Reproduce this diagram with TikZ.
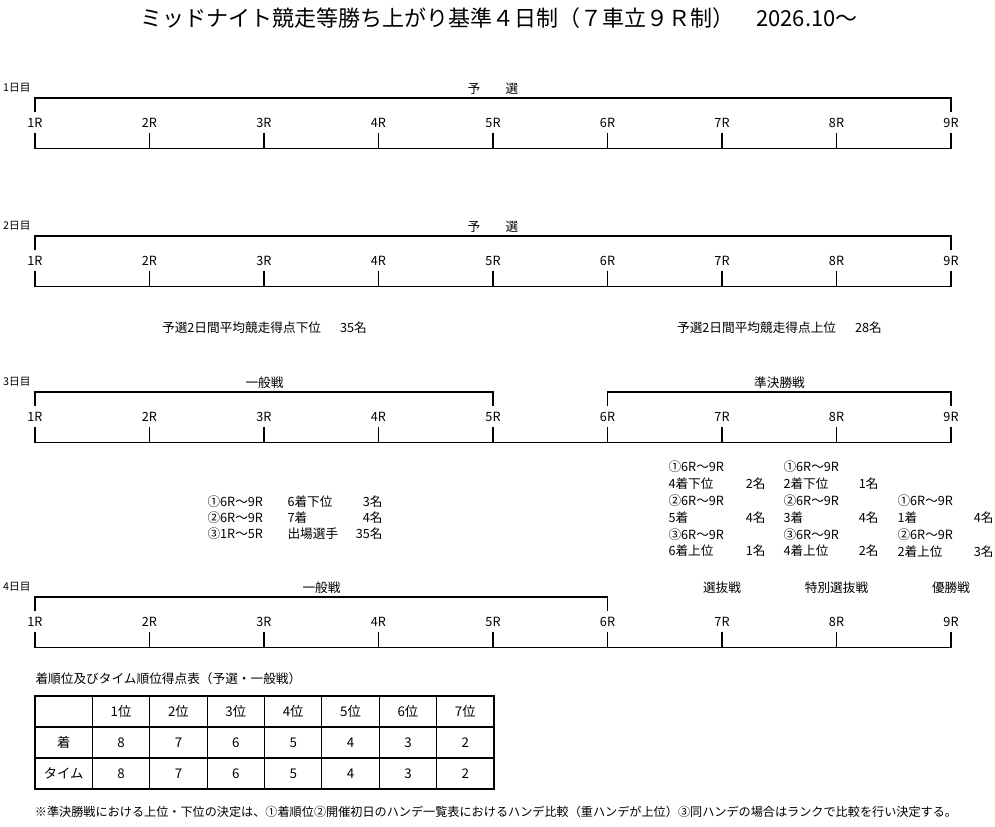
\documentclass[tikz,border=0pt]{standalone}
\usepackage{fontspec}
\setmainfont{Noto Sans CJK JP}
\usepackage{tikz}
\usetikzlibrary{calc,positioning}

\begin{document}
\begin{tikzpicture}[x=.75pt,y=-.75pt,line width=.8pt,
    every node/.append style={font=\fontsize{9.5}{12.6}\selectfont, inner sep=0pt},
    race/.style={minimum height=14.25pt},
    seg/.style={anchor=south, inner sep=2pt},
    daylab/.style={anchor=east, font=\fontsize{8}{9}\selectfont},
    cell/.style={font=\fontsize{10}{12}\selectfont}]
  \useasboundingbox (0,0) rectangle (995,826);
  \node[font=\fontsize{16.5}{18}\selectfont] (title) at (499,18)
    {ミッドナイト競走等勝ち上がり基準４日制（７車立９Ｒ制）　2026.10～};
  \foreach \dnum/\ytop in {1/98,2/236,3/392,4/597} {
    \node[daylab] (day\dnum) at (31,{\ytop-10}) {\dnum 日目};
    \foreach \rc in {1,...,9}
      \node[race] (r\dnum-\rc) at ({35+114.5*(\rc-1)},{\ytop+24.5}) {\rc R};
    \draw (r\dnum-1.south) ++(0,16) coordinate (b\dnum) -- (b\dnum -| r\dnum-9.south);
    \foreach \rc in {1,...,9}
      \draw (r\dnum-\rc.south) -- (r\dnum-\rc.south |- b\dnum);
  }
  \node[seg] (yo1) at (493,98) {予　　選};
  \draw (r1-1.north) |- (yo1.south) -| (r1-9.north);
  \node[seg] (yo2) at (493,236) {予　　選};
  \draw (r2-1.north) |- (yo2.south) -| (r2-9.north);
  \node[seg] (ip3) at (264.5,392) {一般戦};
  \draw (r3-1.north) |- (ip3.south) -| (r3-5.north);
  \node[seg] (jk3) at (779.5,392) {準決勝戦};
  \draw (r3-6.north) |- (jk3.south) -| (r3-9.north);
  \node[seg] (ip4) at (321.5,597) {一般戦};
  \draw (r4-1.north) |- (ip4.south) -| (r4-6.north);
  \node[seg] (sen4) at (r4-7 |- ip4.south) {選抜戦};
  \node[seg] (toku4) at (r4-8 |- ip4.south) {特別選抜戦};
  \node[seg] (yu4) at (r4-9 |- ip4.south) {優勝戦};

  \node (lower) at (264.5,328) {予選2日間平均競走得点下位\hspace{1.5em}35名};
  \node (upper) at (779.5,328) {予選2日間平均競走得点上位\hspace{1.5em}28名};

  \node[anchor=west, align=left, font=\fontsize{9.5}{12}\selectfont] (ippan) at (207,518)
    {\makebox[60pt][l]{①6R～9R}\makebox[71.25pt]{6着下位\hfill 3名}\\
     \makebox[60pt][l]{②6R～9R}\makebox[71.25pt]{7着\hfill 4名}\\
     \makebox[60pt][l]{③1R～5R}\makebox[71.25pt]{出場選手\hfill 35名}};
  \node[anchor=west, align=left] (senbatsu) at (668,509)
    {①6R～9R\\ \makebox[72.75pt]{4着下位\hfill 2名}\\
     ②6R～9R\\ \makebox[72.75pt]{5着\hfill 4名}\\
     ③6R～9R\\ \makebox[72.75pt]{6着上位\hfill 1名}};
  \node[anchor=west, align=left] (tokubetsu) at (783,509)
    {①6R～9R\\ \makebox[71.25pt]{2着下位\hfill 1名}\\
     ②6R～9R\\ \makebox[71.25pt]{3着\hfill 4名}\\
     ③6R～9R\\ \makebox[71.25pt]{4着上位\hfill 2名}};
  \node[anchor=west, align=left] (yusho) at (897,526)
    {①6R～9R\\ \makebox[72pt]{1着\hfill 4名}\\
     ②6R～9R\\ \makebox[72pt]{2着上位\hfill 3名}};

  \node[anchor=west] (tabtitle) at (35,679) {着順位及びタイム順位得点表（予選・一般戦）};
  \draw (35,696) rectangle (494,789);
  \foreach \i in {1,...,7}
    \draw ({35+57.375*\i},696) -- ({35+57.375*\i},789);
  \foreach \j in {1,2}
    \draw (35,{696+31*\j}) -- (494,{696+31*\j});
  \node[cell] (chaku) at (63.7,742.5) {着};
  \node[cell] (taimu) at (63.7,773.5) {タイム};
  \foreach \i in {1,...,7} {
    \pgfmathtruncatemacro\score{9-\i}
    \node[cell] (pos\i) at ({63.7+57.375*\i},711.5) {\i 位};
    \node[cell] (ch\i) at ({63.7+57.375*\i},742.5) {\score};
    \node[cell] (tm\i) at ({63.7+57.375*\i},773.5) {\score};
  }

  \node[font=\fontsize{9.1}{11}\selectfont] (note) at (496,812)
    {※準決勝戦における上位・下位の決定は、①着順位②開催初日のハンデ一覧表におけるハンデ比較（重ハンデが上位）③同ハンデの場合はランクで比較を行い決定する。};
\end{tikzpicture}
\end{document}
